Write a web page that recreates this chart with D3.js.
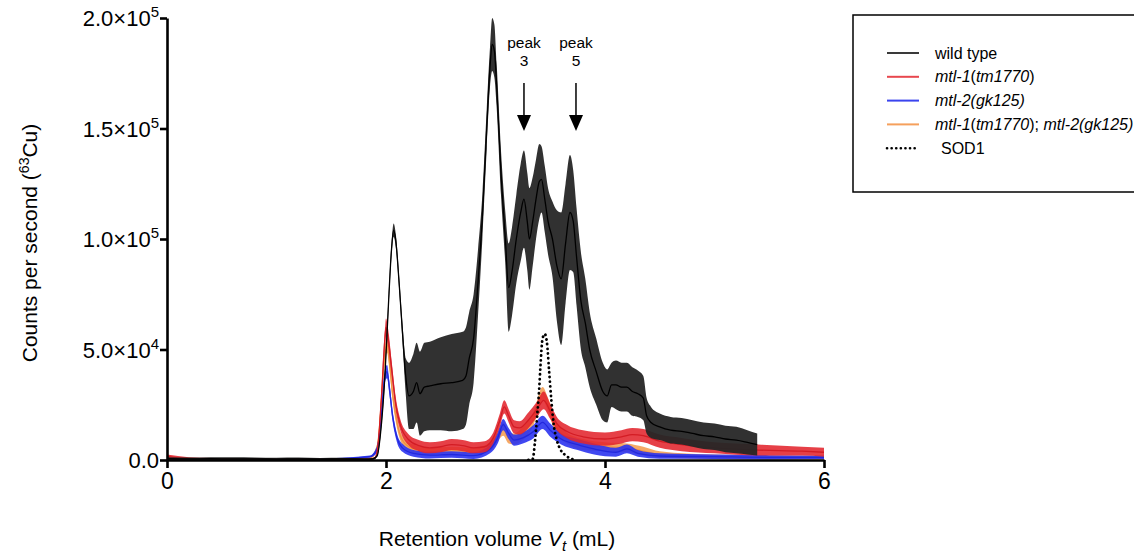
<!DOCTYPE html>
<html>
<head>
<meta charset="utf-8">
<script src="https://cdn.jsdelivr.net/npm/d3@7"></script>
<style>
  body { margin: 0; background: #fff; }
  svg { font-family: "Liberation Sans", Arial, sans-serif; }
</style>
</head>
<body>
<div id="chart"></div>
<script>
// rows are [retention volume (mL), mean counts, band half-width]
const wildType = [
  [0, 600, 700], [0.2, 500, 600], [0.4, 600, 700], [0.6, 500, 700], [0.8, 500, 600],
  [1.0, 400, 600], [1.2, 500, 600], [1.4, 400, 500], [1.6, 500, 500], [1.8, 400, 400],
  [1.88, 500, 400], [1.92, 2000, 500], [1.95, 12000, 1500], [1.99, 38000, 2500],
  [2.02, 68000, 3000], [2.05, 95000, 3000], [2.07, 104000, 3000], [2.09, 99000, 3000],
  [2.12, 80000, 3000], [2.15, 58000, 4000], [2.18, 38000, 8000], [2.21, 29000, 15000],
  [2.25, 31000, 17000], [2.28, 35000, 18000], [2.31, 30000, 19000], [2.35, 33000, 20000],
  [2.4, 33500, 20000], [2.5, 34500, 21000], [2.6, 35000, 22000], [2.7, 36000, 22000],
  [2.73, 38000, 22000], [2.76, 46000, 21000], [2.8, 55000, 20000], [2.84, 80000, 15000],
  [2.88, 110000, 10000], [2.92, 150000, 9000], [2.95, 178000, 9000], [2.97, 188000, 12000],
  [2.99, 185000, 12000], [3.01, 170000, 10000], [3.05, 130000, 10000], [3.09, 100000, 12000],
  [3.12, 78000, 20000], [3.15, 85000, 20000], [3.19, 100000, 20000], [3.23, 112000, 22000],
  [3.26, 118000, 22000], [3.29, 108000, 22000], [3.31, 100000, 23000], [3.34, 108000, 20000],
  [3.37, 118000, 18000], [3.40, 126000, 17000], [3.42, 127000, 15000], [3.45, 118000, 15000],
  [3.48, 108000, 15000], [3.52, 100000, 17000], [3.56, 88000, 25000], [3.60, 82000, 30000],
  [3.64, 98000, 27000], [3.68, 112000, 26000], [3.71, 108000, 23000], [3.74, 92000, 22000],
  [3.78, 72000, 22000], [3.82, 62000, 20000], [3.86, 50000, 17000], [3.92, 40000, 15000],
  [3.98, 31000, 13000], [4.02, 29000, 12000], [4.06, 34000, 10000], [4.1, 34000, 11000],
  [4.15, 33000, 11000], [4.2, 33000, 11000], [4.25, 31000, 11000], [4.3, 30000, 10500],
  [4.35, 28000, 10000], [4.38, 20000, 8000], [4.42, 17000, 7000], [4.5, 15000, 6000],
  [4.6, 13500, 6000], [4.7, 13000, 6000], [4.8, 12000, 6000], [4.9, 11000, 6000],
  [5.0, 10500, 6000], [5.1, 9500, 6000], [5.2, 9000, 6000], [5.3, 8000, 5500], [5.39, 7000, 5000]
];

const mtl1 = [
  [0, 1500, 1000], [0.1, 1000, 800], [0.3, 500, 500], [0.6, 400, 400], [1.0, 300, 300],
  [1.5, 300, 300], [1.85, 400, 300], [1.9, 1000, 500], [1.93, 8000, 2000], [1.96, 30000, 3000],
  [1.99, 55000, 4000], [2.0, 60000, 4000], [2.02, 55000, 4000], [2.05, 42000, 3500],
  [2.09, 25000, 3000], [2.13, 16000, 2500], [2.2, 9500, 2500], [2.3, 6500, 2500],
  [2.4, 5500, 2500], [2.5, 6000, 2500], [2.6, 7000, 2500], [2.7, 6500, 2500], [2.8, 5500, 2500],
  [2.9, 6000, 2500], [2.98, 10000, 2500], [3.04, 18000, 3000], [3.08, 24000, 3000],
  [3.12, 20000, 3000], [3.17, 15000, 3000], [3.22, 14500, 3000], [3.3, 18000, 3500],
  [3.38, 23000, 3500], [3.44, 27000, 4000], [3.5, 22000, 3500], [3.56, 16500, 3000],
  [3.65, 13000, 3000], [3.8, 10500, 3000], [4.0, 9500, 3000], [4.15, 10500, 3000],
  [4.25, 11500, 3000], [4.35, 11000, 3000], [4.5, 8500, 3000], [4.7, 7000, 3000],
  [5.0, 5500, 2500], [5.4, 4500, 2500], [5.8, 4000, 2000], [6.0, 3500, 2000]
];

const mtl2 = [
  [0, 300, 300], [0.5, 200, 200], [1.0, 300, 200], [1.5, 500, 300], [1.85, 1500, 500],
  [1.92, 5000, 1500], [1.96, 22000, 2500], [1.99, 38000, 3000], [2.01, 40000, 3000],
  [2.03, 33000, 3000], [2.06, 20000, 2500], [2.1, 10000, 2000], [2.15, 5500, 1800],
  [2.25, 3000, 1500], [2.4, 2200, 1500], [2.6, 2500, 1500], [2.8, 2000, 1500], [2.95, 5000, 2000],
  [3.02, 10000, 2500], [3.07, 16000, 2500], [3.12, 12000, 2500], [3.17, 9000, 2500],
  [3.25, 10000, 2500], [3.35, 13000, 3000], [3.43, 17000, 3000], [3.5, 13500, 3000],
  [3.6, 9500, 2500], [3.75, 7000, 2500], [3.9, 5000, 2500], [4.1, 3500, 2000], [4.2, 5000, 2000],
  [4.3, 3000, 1500], [4.5, 1800, 1200], [5.0, 1500, 1000], [5.5, 1200, 1000], [6.0, 1200, 800]
];

const doubleMutant = [
  [0, 600, 500], [0.5, 400, 300], [1.0, 300, 300], [1.5, 400, 300], [1.85, 800, 400],
  [1.92, 6000, 1500], [1.96, 28000, 3000], [1.99, 48000, 3500], [2.01, 52000, 3500],
  [2.03, 45000, 3500], [2.06, 30000, 3000], [2.1, 17000, 2500], [2.15, 9000, 2000],
  [2.25, 5000, 2000], [2.4, 4000, 1500], [2.6, 4500, 1500], [2.8, 4000, 1500], [2.95, 6000, 2000],
  [3.02, 11000, 2500], [3.07, 14000, 3000], [3.12, 10000, 2500], [3.17, 9500, 2500],
  [3.25, 12000, 3000], [3.35, 19000, 3000], [3.43, 30000, 3000], [3.48, 25000, 3000],
  [3.55, 15000, 3000], [3.65, 10000, 2500], [3.8, 7000, 2500], [4.0, 6000, 2000],
  [4.2, 5500, 2000], [4.35, 4000, 2000], [4.5, 2500, 1500], [5.0, 1500, 1000], [6.0, 1000, 800]
];

const sod1 = [
  [3.30, 0], [3.34, 500], [3.36, 8000], [3.38, 19500], [3.40, 33000], [3.41, 42000],
  [3.43, 55000], [3.45, 57000], [3.47, 53000], [3.49, 40000], [3.51, 27000], [3.53, 16700],
  [3.56, 9000], [3.59, 5000], [3.63, 2500], [3.68, 800], [3.74, 0]
];

const xTicks = [0, 2, 4, 6];
const yTicks = [0, 50000, 100000, 150000, 200000];
const yTickLabels = [["0.0", ""], ["5.0×10", "4"], ["1.0×10", "5"], ["1.5×10", "5"], ["2.0×10", "5"]];
const peakPositions = [3.26, 3.735];
const peakNames = ["3", "5"];

// legend labels as [text, italic] segments
const legendLabels = [
  [["wild type", false]],
  [["mtl-1", true], ["(", false], ["tm1770", true], [")", false]],
  [["mtl-2(gk125)", true]],
  [["mtl-1", true], ["(", false], ["tm1770", true], ["); ", false], ["mtl-2(gk125)", true]],
  [["SOD1", false]]
];

const width = 1134, height = 558;
const margin = { left: 167, right: 310, top: 18, bottom: 98 };
const plotW = width - margin.left - margin.right;
const plotH = height - margin.top - margin.bottom;

const svg = d3.select("#chart").append("svg")
  .attr("width", width)
  .attr("height", height);

const g = svg.append("g")
  .attr("transform", `translate(${margin.left},${margin.top})`);

const x = d3.scaleLinear().domain([0, 6]).range([0, plotW]);
const y = d3.scaleLinear().domain([0, 200000]).range([plotH, 0]);

g.append("clipPath").attr("id", "plotClip")
  .append("rect").attr("x", 0).attr("y", 0).attr("width", plotW).attr("height", plotH);

const plot = g.append("g").attr("clip-path", "url(#plotClip)");

const series = [
  { data: doubleMutant, band: "#f4a055", line: "#f0933f", opacity: 0.9 },
  { data: mtl2, band: "#2b34ef", line: "#2228dd", opacity: 0.9 },
  { data: mtl1, band: "#e2262e", line: "#d31c24", opacity: 0.88 },
  { data: wildType, band: "#262626", line: "#000", opacity: 0.95 }
];

const area = d3.area()
  .x(d => x(d[0]))
  .y0(d => y(Math.max(0, d[1] - d[2])))
  .y1(d => y(d[1] + d[2]))
  .curve(d3.curveMonotoneX);

const line = d3.line()
  .x(d => x(d[0]))
  .y(d => y(d[1]))
  .curve(d3.curveMonotoneX);

series.forEach(s => {
  plot.append("path")
    .attr("d", area(s.data))
    .attr("fill", s.band)
    .attr("fill-opacity", s.opacity);
  plot.append("path")
    .attr("d", line(s.data))
    .attr("fill", "none")
    .attr("stroke", s.line)
    .attr("stroke-width", 1.3);
});

plot.append("path")
  .attr("d", line(sod1))
  .attr("fill", "none")
  .attr("stroke", "#000")
  .attr("stroke-width", 2.8)
  .attr("stroke-dasharray", "0.1 4.6")
  .attr("stroke-linecap", "round");

/* axes */
const xAxis = d3.axisBottom(x).tickValues(xTicks).tickSize(8).tickSizeOuter(0).tickFormat(d3.format("d"));
const yAxis = d3.axisLeft(y).tickValues(yTicks).tickSize(7).tickSizeOuter(0).tickFormat("");

const xg = g.append("g")
  .attr("transform", `translate(0,${plotH})`)
  .call(xAxis);
const yg = g.append("g").call(yAxis);

[xg, yg].forEach(a => {
  a.select(".domain").attr("stroke-width", 2.6).attr("stroke", "#000");
  a.selectAll(".tick line").attr("stroke-width", 2.6).attr("stroke", "#000");
});

xg.selectAll(".tick text")
  .attr("font-size", 23)
  .attr("fill", "#000")
  .attr("y", 13);

yg.selectAll(".tick").each(function (d, i) {
  const t = d3.select(this).append("text")
    .attr("x", -8)
    .attr("dy", "0.36em")
    .attr("text-anchor", "end")
    .attr("font-size", 22)
    .attr("fill", "#000");
  const lab = yTickLabels[i];
  if (lab[1]) {
    t.append("tspan").text(lab[0]);
    t.append("tspan").attr("dy", -9).attr("font-size", 15).text(lab[1]);
  } else {
    t.text(lab[0]);
  }
});

/* axis titles */
const yTitle = svg.append("text")
  .attr("transform", `translate(37,243) rotate(-90)`)
  .attr("text-anchor", "middle")
  .attr("font-size", 21)
  .attr("fill", "#000");
yTitle.append("tspan").text("Counts per second (");
yTitle.append("tspan").attr("dy", -8).attr("font-size", 14).text("63");
yTitle.append("tspan").attr("dy", 8).text("Cu)");

const xTitle = svg.append("text")
  .attr("x", 497)
  .attr("y", 546)
  .attr("text-anchor", "middle")
  .attr("font-size", 21)
  .attr("fill", "#000");
xTitle.append("tspan").text("Retention volume ");
xTitle.append("tspan").attr("font-style", "italic").text("V");
xTitle.append("tspan").attr("font-style", "italic").attr("font-size", 15).attr("dy", 5).text("t");
xTitle.append("tspan").attr("dy", -5).text(" (mL)");

/* peak annotations */
peakPositions.forEach((p, i) => {
  const px = x(p);
  const ann = g.append("g");
  ann.append("text").attr("x", px).attr("y", 30).attr("text-anchor", "middle")
    .attr("font-size", 15.5).text("peak");
  ann.append("text").attr("x", px).attr("y", 48).attr("text-anchor", "middle")
    .attr("font-size", 15.5).text(peakNames[i]);
  ann.append("line").attr("x1", px).attr("x2", px).attr("y1", 65).attr("y2", 100)
    .attr("stroke", "#000").attr("stroke-width", 1.5);
  ann.append("path")
    .attr("d", `M${px - 7},${97} L${px + 7},${97} L${px},${113} Z`)
    .attr("fill", "#000");
});

/* legend */
const legend = svg.append("g").attr("transform", "translate(853,15)");
legend.append("rect")
  .attr("x", 0).attr("y", 0).attr("width", 300).attr("height", 177)
  .attr("fill", "#fff").attr("stroke", "#000").attr("stroke-width", 1.5);

const legendColors = ["#3a3a3a", "#e8474e", "#3a44ee", "#f5a05c", "#000"];
legendLabels.forEach((segs, i) => {
  const ly = 38 + i * 23.8;
  const ln = legend.append("line")
    .attr("x1", 34).attr("x2", 66).attr("y1", ly).attr("y2", ly)
    .attr("stroke", legendColors[i]).attr("stroke-width", 2);
  if (i === 4) {
    ln.attr("stroke-dasharray", "0.1 4.5").attr("stroke-linecap", "round").attr("stroke-width", 2.6);
  }
  const t = legend.append("text")
    .attr("x", i === 4 ? 88 : 82).attr("y", ly).attr("dy", "0.35em")
    .attr("font-size", 16).attr("fill", "#000");
  segs.forEach(s => {
    t.append("tspan").attr("font-style", s[1] ? "italic" : "normal").text(s[0]);
  });
});
</script>
</body>
</html>
